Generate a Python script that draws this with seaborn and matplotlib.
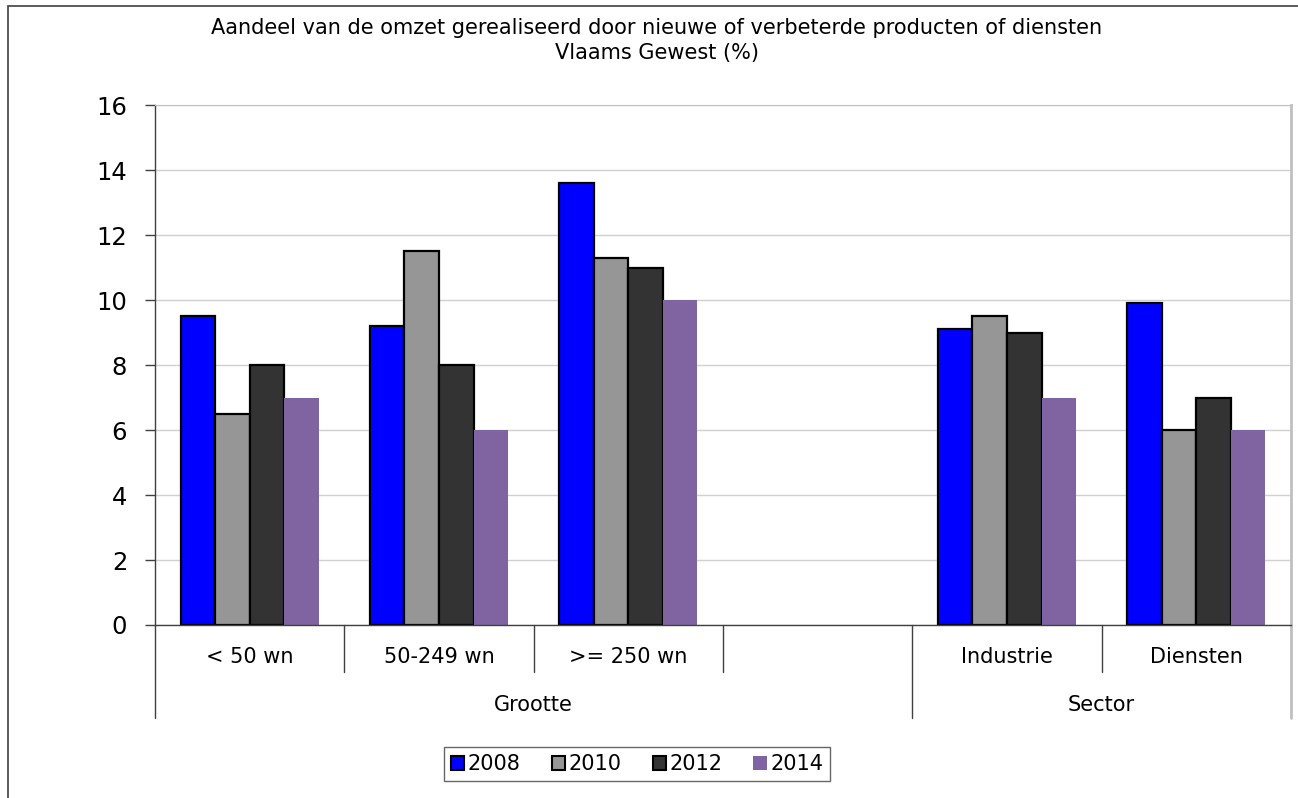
import numpy as np
import pandas as pd
import matplotlib
matplotlib.use("Agg")
import matplotlib.pyplot as plt
import seaborn as sns
from matplotlib.patches import Rectangle, Patch

# Data
categories = ["< 50 wn", "50-249 wn", ">= 250 wn", " ", "Industrie", "Diensten"]
years = ["2008", "2010", "2012", "2014"]
v2008 = [9.5, 9.2, 13.6, np.nan, 9.1, 9.9]
v2010 = [6.5, 11.5, 11.3, np.nan, 9.5, 6.0]
v2012 = [8.0, 8.0, 11.0, np.nan, 9.0, 7.0]
v2014 = [7.0, 6.0, 10.0, np.nan, 7.0, 6.0]
groups = ["Grootte", "Sector"]
group_spans = [(0, 3), (4, 5)]
colors = ["#0000FF", "#969696", "#333333", "#8064A2"]

rows = []
for year, vals in zip(years, [v2008, v2010, v2012, v2014]):
    for cat, v in zip(categories, vals):
        rows.append({"categorie": cat, "jaar": year, "waarde": v})
df = pd.DataFrame(rows)

sns.set_style("white")
plt.rcParams['font.family'] = ['DejaVu Sans']
plt.rcParams['text.color'] = 'black'
plt.rcParams['ytick.labelcolor'] = 'black'

fig = plt.figure(figsize=(12.98, 7.98), dpi=100)
ax = fig.add_axes([155 / 1298, 1 - 625 / 798, (1291 - 155) / 1298, 520 / 798])

sns.barplot(data=df, x="categorie", y="waarde", hue="jaar", order=categories,
            hue_order=years, palette=colors, width=0.73, saturation=1,
            edgecolor="black", linewidth=1.6, errorbar=None, ax=ax, legend=False)

# the 2014 bars have no outline
for bar in ax.containers[3]:
    bar.set_edgecolor("none")

ax.set_ylim(0, 16)
ax.set_xlim(-0.5, 5.5)
ax.set_yticks(np.arange(0, 17, 2))
ax.tick_params(axis="y", labelsize=17.5, length=7, width=1, color="#404040",
               labelcolor="black", direction="out", left=True, pad=13)
ax.set_xticks([])
ax.set_xlabel("")
ax.set_ylabel("")
ax.yaxis.grid(True, color="#D0D0D0", linewidth=1)
ax.set_axisbelow(True)

for side in ["left", "bottom"]:
    ax.spines[side].set_color("#404040")
    ax.spines[side].set_linewidth(1)
ax.spines["top"].set_color("#C0C0C0")
ax.spines["right"].set_color("#C0C0C0")
ax.spines["right"].set_linewidth(2)

# multi-level category axis
trans = ax.get_xaxis_transform()
for xb in [0.5, 1.5, 2.5, 4.5]:
    ax.plot([xb, xb], [0, -0.09], color="#404040", lw=1, transform=trans, clip_on=False)
for xb in [-0.5, 3.5]:
    ax.plot([xb, xb], [0, -0.179], color="#404040", lw=1, transform=trans, clip_on=False)
ax.plot([5.5, 5.5], [0, -0.179], color="#C0C0C0", lw=2, transform=trans, clip_on=False)

for i, cat in enumerate(categories):
    ax.text(i, -0.061, cat, transform=trans, ha="center", va="center", fontsize=15, color="black")
for name, (a, b) in zip(groups, group_spans):
    ax.text((a + b) / 2, -0.154, name, transform=trans, ha="center", va="center", fontsize=15, color="black")

# title
fig.text(657 / 1298, 1 - 28 / 798, "Aandeel van de omzet gerealiseerd door nieuwe of verbeterde producten of diensten",
         ha="center", va="center", fontsize=15, color="black")
fig.text(657 / 1298, 1 - 53 / 798, "Vlaams Gewest (%)", ha="center", va="center", fontsize=15, color="black")

# legend
handles = [Patch(facecolor=c, edgecolor="black" if y != "2014" else "none", linewidth=1.5, label=y)
           for c, y in zip(colors, years)]
leg = fig.legend(handles=handles, loc="center", bbox_to_anchor=(637 / 1298, 1 - 764 / 798), ncol=4,
                 fontsize=15, frameon=True, fancybox=False, edgecolor="#404040",
                 handlelength=0.65, handleheight=0.65, handletextpad=0.15, columnspacing=1.5,
                 borderpad=0.35, borderaxespad=0)
leg.get_frame().set_linewidth(1)
for t in leg.get_texts():
    t.set_color("black")

# outer chart frame
fig.patches.append(Rectangle((8 / 1298, -0.1), 1.2, 1.1 - 6 / 798, transform=fig.transFigure,
                             fill=False, edgecolor="#404040", linewidth=1.2))

fig.savefig("out.png", dpi=100)
